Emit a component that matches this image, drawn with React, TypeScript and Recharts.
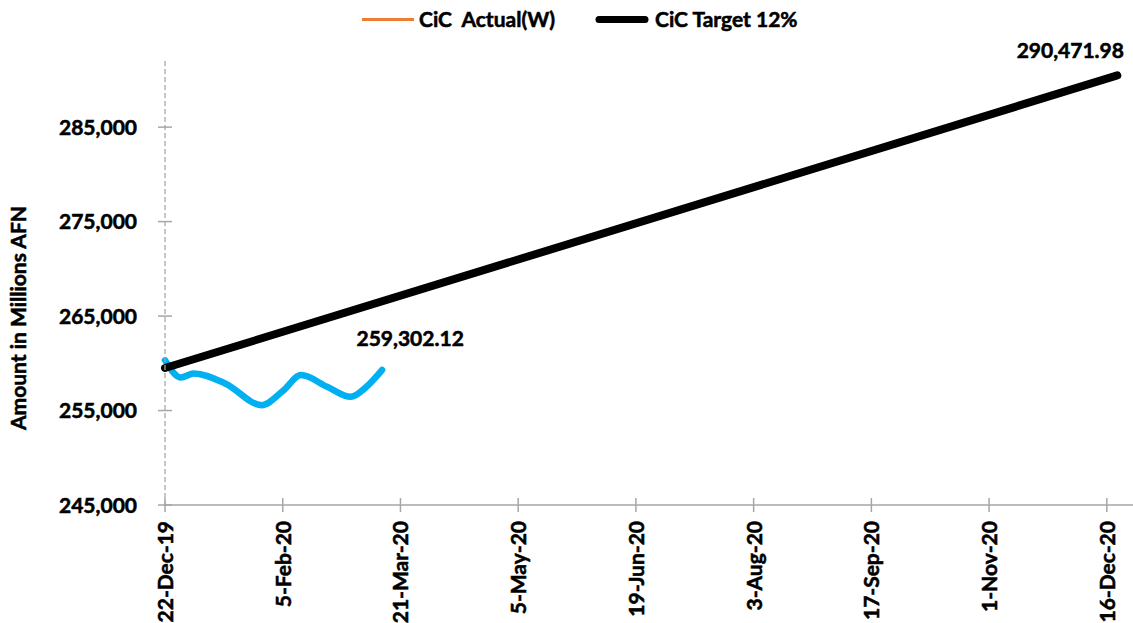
import React from 'react';
import { LineChart, Line, XAxis, YAxis, Legend, Label } from 'recharts';

// ---- Data ----
const ACTUAL_DAYS = [0, 6, 11, 23, 37, 45, 52, 62, 71, 77, 83];
const ACTUAL_VALUES = [260330, 258500, 258930, 257870, 255570, 257050, 258750, 257510, 256450, 257510, 259302.12];

const TARGET_DAYS = [0, 364];
const TARGET_VALUES = [259500, 290471.98];

const X_TICK_DAYS = [0, 45, 90, 135, 180, 225, 270, 315, 360];
const X_TICK_LABELS = ['22-Dec-19', '5-Feb-20', '21-Mar-20', '5-May-20', '19-Jun-20', '3-Aug-20', '17-Sep-20', '1-Nov-20', '16-Dec-20'];
const Y_TICKS = [245000, 255000, 265000, 275000, 285000];

const SERIES_NAMES = ['CiC  Actual(W)', 'CiC Target 12%'];
const Y_TITLE = 'Amount in Millions AFN';

const actualData = ACTUAL_DAYS.map((d, i) => ({ day: d, value: ACTUAL_VALUES[i] }));
const targetData = TARGET_DAYS.map((d, i) => ({ day: d, value: TARGET_VALUES[i] }));

// ---- Styles ----
const FONT = 'Lato, "Open Sans", sans-serif';
const FW = 700;
const FS = 21;
const TXT = { fontFamily: FONT, fontWeight: FW, fontSize: FS, fill: '#000', stroke: '#000', strokeWidth: 0.55 } as const;
const AXIS_GREY = '#A6A6A6';
const ACTUAL_COLOR = '#00B0F0';
const ACTUAL_LEGEND_COLOR = '#ED7D31';
const TARGET_COLOR = '#000000';

const fmtNum = (v: number) => v.toLocaleString('en-US');
const fmtLabel = (v: number) =>
  v.toLocaleString('en-US', { minimumFractionDigits: 2, maximumFractionDigits: 2 });

const XTick = (props: any) => {
  const { x, y, payload } = props;
  const idx = X_TICK_DAYS.indexOf(payload.value);
  const label = idx >= 0 ? X_TICK_LABELS[idx] : '';
  const ty = y + 16;
  const tx = x + 8;
  return (
    <g>
      <line x1={x} x2={x} y1={y - 7} y2={y + 7} stroke={AXIS_GREY} strokeWidth={1.5} />
      <text x={tx} y={ty} transform={`rotate(-90, ${tx}, ${ty})`} textAnchor="end" {...TXT}>
        {label}
      </text>
    </g>
  );
};

const YTick = (props: any) => {
  const { x, y, payload } = props;
  return (
    <g>
      <line x1={x - 7} x2={x + 7} y1={y} y2={y} stroke={AXIS_GREY} strokeWidth={1.5} />
      <text x={137} y={y + 7.5} textAnchor="end" {...TXT}>
        {fmtNum(payload.value)}
      </text>
    </g>
  );
};

const makeEndLabel = (count: number, dx: number, dy: number) => (props: any) => {
  const { x, y, index, value } = props;
  if (index !== count - 1) return null;
  return (
    <text x={x + dx} y={y + dy} textAnchor="middle" {...TXT}>
      {fmtLabel(Number(value))}
    </text>
  );
};

const renderLegend = () => (
  <svg width={1133} height={40} style={{ display: 'block' }}>
    <line x1={362} x2={414} y1={19.5} y2={19.5} stroke={ACTUAL_LEGEND_COLOR} strokeWidth={3} />
    <text x={419} y={27} {...TXT} style={{ whiteSpace: 'pre' }}>
      {SERIES_NAMES[0]}
    </text>
    <line x1={599} x2={645} y1={19.5} y2={19.5} stroke={TARGET_COLOR} strokeWidth={7} strokeLinecap="round" />
    <text x={655} y={27} {...TXT} style={{ whiteSpace: 'pre' }}>
      {SERIES_NAMES[1]}
    </text>
  </svg>
);

const YTitle = () => (
  <text x={26} y={318} transform="rotate(-90, 26, 318)" textAnchor="middle" {...TXT}>
    {Y_TITLE}
  </text>
);

export default function App() {
  return (
    <div style={{ position: 'absolute', left: 0, top: 0, width: 1133, height: 623, background: '#fff' }}>
      <LineChart width={1133} height={623} margin={{ top: 61, right: 0, bottom: 0, left: 0 }}>
        <XAxis
          dataKey="day"
          type="number"
          domain={[0, 370]}
          ticks={X_TICK_DAYS}
          interval={0}
          height={118}
          tickSize={0}
          tickMargin={0}
          tickLine={false}
          axisLine={{ stroke: AXIS_GREY, strokeWidth: 1.5 }}
          tick={<XTick />}
        />
        <YAxis
          type="number"
          domain={[245000, 292000]}
          ticks={Y_TICKS}
          interval={0}
          width={165}
          tickSize={0}
          tickMargin={0}
          tickLine={false}
          axisLine={{ stroke: AXIS_GREY, strokeWidth: 1.25, strokeDasharray: '5 3' }}
          tick={<YTick />}
        >
          <Label content={<YTitle />} />
        </YAxis>
        <Legend
          verticalAlign="middle"
          layout="horizontal"
          wrapperStyle={{ top: 0, left: 0, width: 1133, height: 40 }}
          content={renderLegend}
        />
        <Line
          data={actualData}
          dataKey="value"
          name={SERIES_NAMES[0]}
          type="monotone"
          stroke={ACTUAL_COLOR}
          strokeWidth={6.5}
          strokeLinecap="round"
          dot={false}
          activeDot={false}
          isAnimationActive={false}
          label={makeEndLabel(actualData.length, 28, -24)}
        />
        <Line
          data={targetData}
          dataKey="value"
          name={SERIES_NAMES[1]}
          type="linear"
          stroke={TARGET_COLOR}
          strokeWidth={8}
          strokeLinecap="round"
          dot={false}
          activeDot={false}
          isAnimationActive={false}
          label={makeEndLabel(targetData.length, -47, -17)}
        />
      </LineChart>
    </div>
  );
}
